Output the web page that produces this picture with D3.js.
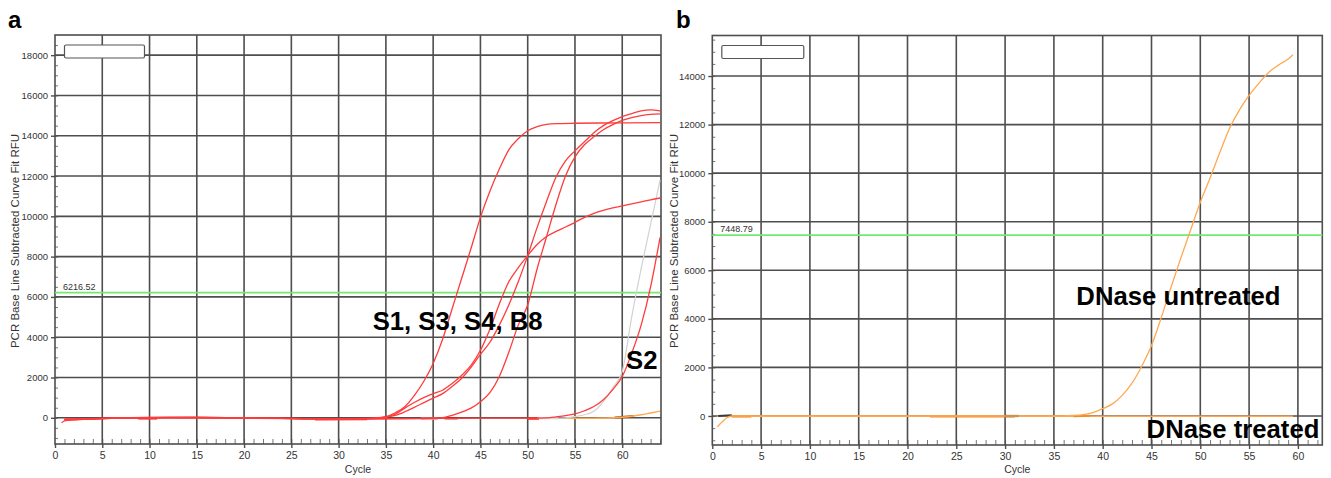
<!DOCTYPE html>
<html><head><meta charset="utf-8">
<script src="https://cdn.jsdelivr.net/npm/d3@7"></script>
<style>
body{margin:0;background:#fff}
svg{display:block;font-family:Arial,"Liberation Sans",sans-serif}
</style>
</head><body>
<svg id="c" width="1331" height="478"></svg>
<script>
// ---------- DATA: panel a ----------
const xTicks = [0,5,10,15,20,25,30,35,40,45,50,55,60];
const yTicksA = [0,2000,4000,6000,8000,10000,12000,14000,16000,18000];
const yTicksB = [0,2000,4000,6000,8000,10000,12000,14000];
const thresholdA = 6216.52;
const thresholdB = 7448.79;

const cycS1 = [0.7,1,2,3,4,6,10,15,20,25,30,33,34,35,36,37,38,39,40,41,42,43,44,45,46,47,48,49,50,51,52,53,55,60,64];
const rfuS1 = [-250,-150,-100,-80,-60,-20,20,30,-10,-30,-60,-40,0,60,250,550,1100,1800,2700,3900,5400,6900,8400,9950,11250,12350,13300,13850,14250,14450,14560,14600,14620,14640,14650];

const cycS4 = [1,3,6,10,15,20,25,30,34,35,36,37,38,39,40,41,42,43,44,45,46,47,48,49,50,51,52,53,54,55,56,57,58,59,60,61,62,63,64];
const rfuS4 = [-100,-60,-20,10,20,-20,-40,-50,-20,30,120,300,520,750,980,1200,1550,1950,2500,3150,3750,4600,5600,6750,8050,9450,10750,11950,12750,13250,13700,14150,14500,14750,14950,15100,15230,15280,15230];

const cycS3 = [1,3,6,10,15,20,25,30,34,35,36,37,38,39,40,41,42,43,44,45,46,47,48,49,50,51,52,53,54,55,56,57,58,59,60,61,62,63,64];
const rfuS3 = [-120,-70,-30,0,10,-10,-30,-60,-30,40,180,480,760,1000,1200,1370,1700,2100,2600,3350,4400,5650,6750,7450,8050,8600,9000,9250,9470,9700,9950,10150,10300,10420,10520,10620,10720,10820,10910];

const cycB8 = [1,4,8,12,18,24,28,33,38,40,41,42,43,44,45,46,47,48,49,50,51,52,53,54,55,56,57,58,59,60,61,62,63,64];
const rfuB8 = [-80,-50,0,20,0,-30,-70,-60,-40,-20,10,120,280,480,800,1250,2050,3250,4600,5600,7400,9000,10600,12000,12950,13550,13950,14300,14550,14760,14900,15000,15060,15090];

const cycS2 = [1,5,10,20,30,40,45,50,52,53,54,55,56,57,58,59,60,61,62,63,64];
const rfuS2 = [-60,-30,10,-20,-50,-30,-20,-20,0,50,110,200,350,560,900,1400,2050,3200,4600,6500,8950];

const cycGrey = [51,53,54,55,56,57,58,59,60,61,62,63,64];
const rfuGrey = [-20,-20,0,60,150,320,800,1500,2300,5000,7400,9600,11800];

const cycOrangeA = [54,56,58,59,60,61,62,63,64];
const rfuOrangeA = [-20,-20,-10,0,30,80,150,240,330];

// short baseline pieces seen on the zero line of panel a
const segCycA = [[8.8,10.8],[27.5,33],[38.7,40.5],[41.2,42.6],[50,51.2],[51.2,53.2],[59.2,61.2]];
const segRfuA = [[-30,-30],[-80,-60],[-40,-40],[-20,-20],[-40,-40],[-30,-30],[10,75]];
const segColA = ["#ff3030","#ff3030","#f59090","#a01818","#ff3030","#ececec","#9a5a20"];

// ---------- DATA: panel b ----------
const cycUntreated = [0.5,1,1.5,2,5,10,20,30,36,37,38,39,40,41,42,43,44,45,46,47,48,49,50,51,52,53,54,55,56,57,58,59,59.5];
const rfuUntreated = [-450,-250,-70,0,0,0,0,0,0,20,60,140,300,500,850,1350,2050,2900,4050,5300,6500,7650,8800,9800,10850,11850,12600,13200,13700,14150,14450,14700,14880];
const cycTreated = [0.5,59.5];
const rfuTreated = [-10,-10];
const segCycB = [[0.6,2],[2,4],[22.3,31],[29.9,31.4],[37,38.7]];
const segRfuB = [[0,30],[-20,-20],[-15,-15],[0,0],[-10,10]];
const segColB = ["#3a3a3a","#f08a2a","#f08a2a","#4a4a4a","#f08a2a"];

// ---------- DRAWING ----------
const svg = d3.select("#c");
const gridColor = "#4e4e4e";
const red = "#ff3b3b";
const orange = "#ffa852";
const green = "#72ea72";

function makePanel(cfg) {
  const g = svg.append("g");
  const x = d3.scaleLinear().domain(cfg.xDomain).range([cfg.left, cfg.right]);
  const y = d3.scaleLinear().domain(cfg.yDomain).range([cfg.bottom, cfg.top]);

  // minor y ticks (inside)
  const yMinor = d3.range(-1000, cfg.yDomain[1], 500);
  g.append("g").attr("transform", `translate(${cfg.left},0)`)
    .call(d3.axisLeft(y).tickValues(yMinor).tickSize(-3).tickFormat(""))
    .call(s => s.select(".domain").remove())
    .selectAll("line").attr("stroke", "#777").attr("stroke-width", 1);
  // minor x ticks (inside, from bottom)
  const xMinor = d3.range(1, cfg.xDomain[1], 1);
  g.append("g").attr("transform", `translate(0,${cfg.bottom})`)
    .call(d3.axisBottom(x).tickValues(xMinor).tickSize(-5).tickFormat(""))
    .call(s => s.select(".domain").remove())
    .selectAll("line").attr("stroke", "#777").attr("stroke-width", 1);

  // horizontal grid
  g.append("g").selectAll("line").data(cfg.yTicks).join("line")
    .attr("x1", cfg.left).attr("x2", cfg.right)
    .attr("y1", d => y(d)).attr("y2", d => y(d))
    .attr("stroke", gridColor).attr("stroke-width", 1.6);
  // vertical grid
  g.append("g").selectAll("line").data(xTicks.filter(d => d > 0)).join("line")
    .attr("x1", d => x(d)).attr("x2", d => x(d))
    .attr("y1", cfg.top).attr("y2", cfg.bottom)
    .attr("stroke", gridColor).attr("stroke-width", 1.6);

  // axes with labels
  const ya = g.append("g").attr("transform", `translate(${cfg.left},0)`)
    .call(d3.axisLeft(y).tickValues(cfg.yTicks).tickSize(4).tickPadding(3).tickFormat(d3.format("d")));
  ya.select(".domain").remove();
  ya.selectAll("line").attr("stroke", gridColor).attr("stroke-width", 1.4);
  ya.selectAll("text").attr("font-size", 9.5).attr("fill", "#333")
    .attr("font-family", "Arial,'Liberation Sans',sans-serif");

  const xa = g.append("g").attr("transform", `translate(0,${cfg.bottom})`)
    .call(d3.axisBottom(x).tickValues(xTicks).tickSize(4).tickPadding(4));
  xa.select(".domain").remove();
  xa.selectAll("line").attr("stroke", gridColor).attr("stroke-width", 1.4);
  xa.selectAll("text").attr("font-size", 10.5).attr("fill", "#333")
    .attr("font-family", "Arial,'Liberation Sans',sans-serif");

  // frame
  g.append("rect").attr("x", cfg.left).attr("y", cfg.top)
    .attr("width", cfg.right - cfg.left).attr("height", cfg.bottom - cfg.top)
    .attr("fill", "none").attr("stroke", gridColor).attr("stroke-width", 1.6);

  // legend box
  g.append("rect").attr("x", cfg.left + 9.5).attr("y", cfg.top + 10)
    .attr("width", cfg.legendW).attr("height", 13).attr("rx", 1.5)
    .attr("fill", "#fff").attr("stroke", "#555").attr("stroke-width", 1.2);

  // threshold
  g.append("line").attr("x1", cfg.left).attr("x2", cfg.right)
    .attr("y1", y(cfg.threshold)).attr("y2", y(cfg.threshold))
    .attr("stroke", green).attr("stroke-width", 1.8);
  g.append("text").attr("x", cfg.left + 8).attr("y", y(cfg.threshold) - 3)
    .attr("font-size", 9).attr("fill", "#333").text(cfg.threshold.toFixed(2));

  // axis titles
  g.append("text").attr("transform", `translate(${cfg.titleX},241) rotate(-90)`)
    .attr("text-anchor", "middle").attr("font-size", 11.5).attr("fill", "#333")
    .text("PCR Base Line Subtracted Curve Fit RFU");
  g.append("text").attr("x", (cfg.left + cfg.right) / 2).attr("y", 473)
    .attr("text-anchor", "middle").attr("font-size", 10.5).attr("fill", "#333")
    .text("Cycle");

  // panel letter
  svg.append("text").attr("x", cfg.letterX).attr("y", 28)
    .attr("font-size", 24).attr("font-weight", "bold").attr("fill", "#000")
    .text(cfg.letter);

  const line = d3.line().x(d => x(d[0])).y(d => y(d[1])).curve(d3.curveMonotoneX);
  const curves = g.append("g");
  const addCurve = (cyc, rfu, color, w) => {
    curves.append("path").datum(d3.zip(cyc, rfu)).attr("d", line)
      .attr("fill", "none").attr("stroke", color).attr("stroke-width", w)
      .attr("stroke-linejoin", "round");
  };
  return { g, x, y, addCurve };
}

// Panel a
const A = makePanel({
  left: 55, right: 661, top: 35, bottom: 444,
  xDomain: [0, 64.1], yDomain: [-1300, 19000], yTicks: yTicksA,
  threshold: thresholdA, legendW: 80, titleX: 18.5, letter: "a", letterX: 8
});
segCycA.forEach((c, i) => A.addCurve(c, segRfuA[i], segColA[i], 2.4));
A.addCurve(cycOrangeA, rfuOrangeA, orange, 1.4);
A.addCurve(cycGrey, rfuGrey, "#d2d2d2", 1.2);
A.addCurve(cycS1, rfuS1, red, 1.3);
A.addCurve(cycS4, rfuS4, red, 1.3);
A.addCurve(cycS3, rfuS3, red, 1.3);
A.addCurve(cycB8, rfuB8, red, 1.3);
A.addCurve(cycS2, rfuS2, red, 1.3);

// Panel b
const B = makePanel({
  left: 712.3, right: 1322.3, top: 35.5, bottom: 445,
  xDomain: [0, 62.5], yDomain: [-1195, 15670], yTicks: yTicksB,
  threshold: thresholdB, legendW: 82, titleX: 678, letter: "b", letterX: 676
});
B.addCurve(cycTreated, rfuTreated, orange, 1.6);
segCycB.forEach((c, i) => B.addCurve(c, segRfuB[i], segColB[i], 2.2));
B.addCurve(cycUntreated, rfuUntreated, orange, 1.3);

// annotations
const ann = (P, cx, ry, txt) => P.g.append("text").attr("x", P.x(cx)).attr("y", P.y(ry))
  .attr("font-size", 25.7).attr("font-weight", "bold").attr("fill", "#000").text(txt);
ann(A, 33.6, 4360, "S1, S3, S4, B8");
ann(A, 60.4, 2420, "S2");
ann(B, 37.3, 4570, "DNase untreated");
ann(B, 44.5, -906, "DNase treated");
</script>
</body></html>
